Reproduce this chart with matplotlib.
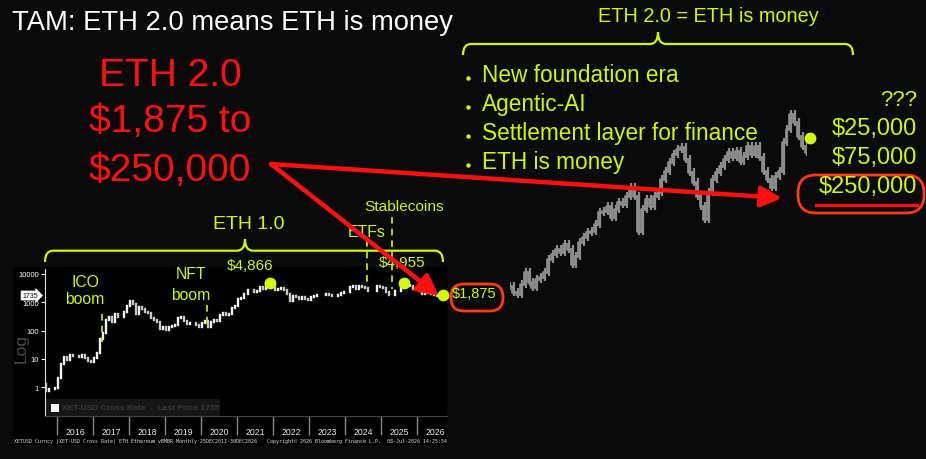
import matplotlib
matplotlib.use("Agg")
import matplotlib.pyplot as plt
import numpy as np
from matplotlib.path import Path
from matplotlib.patches import PathPatch, FancyBboxPatch, Rectangle
import matplotlib.transforms as mtransforms

plt.rcParams['font.family'] = ['Liberation Sans', 'DejaVu Sans']

# ---------------- DATA ----------------
# ETH monthly closes, Aug 2015 .. Jul 2026 (XET-USD)
eth_first_open = 2.8
eth_close = [
    1.35, 0.73, 0.87, 0.87, 0.93,
    2.2, 6.4, 11.4, 8.8, 14.0, 12.3, 12.5, 11.4, 13.2, 11.0, 8.7, 8.0,
    10.7, 16.1, 50.0, 80.0, 230, 292, 201, 388, 302, 305, 447, 756,
    1118, 856, 397, 670, 577, 455, 433, 283, 232, 197, 113, 133,
    107, 136, 141, 162, 268, 291, 218, 172, 180, 183, 152, 130,
    180, 218, 133, 206, 231, 226, 346, 435, 360, 386, 616, 737,
    1314, 1416, 1919, 2773, 2707, 2275, 2536, 3433, 3001, 4288, 4631, 3683,
    2688, 2922, 3282, 2730, 1942, 1067, 1679, 1553, 1328, 1573, 1296, 1196,
    1585, 1605, 1822, 1869, 1874, 1934, 1857, 1645, 1671, 1815, 2052, 2282,
    2283, 3340, 3646, 3013, 3760, 3433, 3232, 2513, 2603, 2518, 3705, 3332,
    3300, 2237, 1822, 1794, 2530, 2486, 3700, 4400, 4145, 3850, 3000, 2970,
    2440, 2000, 2100, 2280, 2000, 1880, 1735,
]
eth_start_year = 2015
eth_start_month = 8
years = [2016, 2017, 2018, 2019, 2020, 2021, 2022, 2023, 2024, 2025, 2026]
ytick_vals = [1, 10, 100, 1000, 10000]
last_price = 1735

# highlighted points on ETH 1.0 chart
dot_dates = [2021.92, 2025.65, 2026.72]
dot_values = [4866, 4955, 1875]
dot_labels = ["$4,866", "$4,955", "$1,875"]

# ETH 2.0 projected path (index level 0-100)
eth2_path = [9, 6, 5, 10, 16, 11, 8.5, 12.5, 13.5, 16, 22.5, 25, 27.5, 26, 30, 27.5,
             20, 24, 31, 33.5, 36, 36.5, 40, 46, 46.5, 49, 43.5, 47.5, 51, 50, 54,
             58.5, 54, 36.5, 47.5, 52.5, 49, 54, 56, 62.5, 66.5, 71, 75, 77.5, 78.5,
             72.5, 66, 61, 54, 49, 42.5, 56, 62.5, 66, 69, 72.5, 76, 73.5, 76.5,
             71.5, 74, 79, 75, 79, 73.5, 66.5, 62.5, 58.5, 64, 66.5, 81, 87.5, 95,
             91, 84, 79, 76]

bullets = ["New foundation era", "Agentic-AI", "Settlement layer for finance", "ETH is money"]
targets = ["???", "$25,000", "$75,000", "$250,000"]

# ---------------- STYLE ----------------
BG = '#0a0a0a'
LIME = '#d2f500'
RED = '#ff1010'
ORANGE = '#ff3a12'
W, H = 926, 460

fig = plt.figure(figsize=(W / 100, H / 100), dpi=100, facecolor=BG)

def fr(x0, y0, x1, y1):
    return [x0 / W, 1 - y1 / H, (x1 - x0) / W, (y1 - y0) / H]

# background axes for Bloomberg panel
bg = fig.add_axes([0, 0, 1, 1], zorder=0)
bg.set_xlim(0, W); bg.set_ylim(H, 0); bg.axis('off')
bg.add_patch(Rectangle((13, 268), 434, 178, fc='#000000', ec='none'))

# ---------------- ETH 1.0 chart ----------------
ax = fig.add_axes(fr(45, 270, 447, 417), zorder=1)
ax.set_facecolor('#000000')
n = len(eth_close)
t = np.array([eth_start_year + (eth_start_month - 1 + i) / 12 + 1 / 24 for i in range(n)])
opens = [eth_first_open] + eth_close[:-1]
for ti, o, c in zip(t, opens, eth_close):
    lo, hi = min(o, c), max(o, c)
    col = '#f2f2f2' if c >= o else '#c8c8c8'
    ax.vlines(ti, lo, hi, color=col, lw=1.7, capstyle='projecting')
ax.set_yscale('log')
ax.set_ylim(0.096, 15000)
ax.set_xlim(2015.667, 2026.833)
for s in ['top', 'right']:
    ax.spines[s].set_visible(False)
ax.spines['left'].set_color('#dddddd')
ax.spines['bottom'].set_color('#444444')
ax.set_yticks(ytick_vals)
ax.set_yticklabels([str(v) for v in ytick_vals])
ax.yaxis.set_minor_locator(matplotlib.ticker.NullLocator())
ax.tick_params(axis='y', colors='white', labelsize=5.5, length=3, width=0.8, pad=1.5)
ax.set_xticks(years)
ax.set_xticklabels([])
ax.set_xticks([y + 0.5 for y in years], minor=True)
ax.set_xticklabels([str(y) for y in years], minor=True)
ax.tick_params(axis='x', which='major', length=14, width=1, color='#888888', direction='out')
ax.tick_params(axis='x', which='minor', length=0, labelsize=6.3, labelcolor='#e8e8e8', pad=8)

# last price tag
trans = mtransforms.blended_transform_factory(ax.transAxes, ax.transData)
ax.text(-0.018, last_price, str(last_price), transform=trans, ha='right', va='center',
        fontsize=5, color='black', clip_on=False,
        bbox=dict(boxstyle='rarrow,pad=0.15', fc='white', ec='white', lw=0.5))

# legend box
ax.add_patch(Rectangle((0.0, 0.0), 0.435, 0.115, transform=ax.transAxes, fc='#161616', ec='none'))
ax.add_patch(Rectangle((0.015, 0.03), 0.02, 0.055, transform=ax.transAxes, fc='white', ec='none'))
ax.text(0.042, 0.057, f"XET-USD Cross Rate  -  Last Price {last_price}", transform=ax.transAxes,
        fontsize=6, color='#3a3a3a', fontweight='bold', va='center')

# dots
ax.plot(dot_dates, dot_values, 'o', ms=8.5, color='#d4f70f', mec='none', clip_on=False, zorder=5)

# ---------------- ETH 2.0 chart ----------------
gx = fig.add_axes(fr(510, 105, 807, 305), zorder=1)
gx.patch.set_alpha(0)
gx.axis('off')
m = len(eth2_path)
xs = np.arange(m)
gx.set_xlim(0, m - 1)
gx.set_ylim(0, 100)
gx.plot(xs, eth2_path, color='#8c8c8c', lw=2.0, drawstyle='steps-mid')
prev = eth2_path[0]
for i, v in enumerate(eth2_path):
    lo, hi = min(prev, v), max(prev, v)
    gx.vlines(i, lo - 2.2, hi + 2.2, color='#8c8c8c', lw=1.6)
    prev = v

# ---------------- overlay annotations ----------------
ov = fig.add_axes([0, 0, 1, 1], zorder=5)
ov.set_xlim(0, W); ov.set_ylim(H, 0); ov.axis('off'); ov.patch.set_alpha(0)

ov.text(12, 30, "TAM: ETH 2.0 means ETH is money", color='white', fontsize=19.7, va='baseline')

for txt, yb in zip(["ETH 2.0", "$1,875 to", "$250,000"], [86, 132.5, 181.5]):
    ov.text(170, yb, txt, color=RED, fontsize=28, ha='center', va='baseline')

def brace(x0, x1, y, xm, y_end, y_tip, r=8):
    verts = [(x0, y_end), (x0, y), (x0 + r, y), (xm - r, y), (xm, y), (xm, y_tip),
             (xm, y), (xm + r, y), (x1 - r, y), (x1, y), (x1, y_end)]
    codes = [Path.MOVETO, Path.CURVE3, Path.CURVE3, Path.LINETO, Path.CURVE3, Path.CURVE3,
             Path.CURVE3, Path.CURVE3, Path.LINETO, Path.CURVE3, Path.CURVE3]
    ov.add_patch(PathPatch(Path(verts, codes), fc='none', ec=LIME, lw=1.6))

brace(463, 853, 45, 658, 56, 33)
ov.text(708, 21.7, "ETH 2.0 = ETH is money", color=LIME, fontsize=14.3, ha='center', va='baseline')

brace(45, 443, 251.7, 245, 263, 240)
ov.text(249, 229.3, "ETH 1.0", color=LIME, fontsize=14, ha='center', va='baseline')

for txt, yb in zip(bullets, [81.7, 111, 140, 169.3]):
    ov.plot([468], [yb - 3], 'o', ms=3.2, color=LIME, mec='none')
    ov.text(482, yb, txt, color=LIME, fontsize=16.3, va='baseline')

for txt, yb in zip(targets, [106.5, 135, 164, 193.3]):
    ov.text(917, yb, txt, color=LIME, fontsize=17 if txt != "???" else 16, ha='right', va='baseline')

ov.plot([810], [139], 'o', ms=8.5, color='#d4f70f', mec='none')

# event annotations
ov.text(85, 286.7, "ICO", color=LIME, fontsize=11.3, ha='center', va='baseline')
ov.text(85, 304.5, "boom", color=LIME, fontsize=11.3, ha='center', va='baseline')
ov.text(191, 279.5, "NFT", color=LIME, fontsize=11.3, ha='center', va='baseline')
ov.text(191, 300, "boom", color=LIME, fontsize=11.3, ha='center', va='baseline')
ov.text(367, 236.7, "ETFs", color=LIME, fontsize=11.4, ha='center', va='baseline')
ov.text(404, 210.7, "Stablecoins", color=LIME, fontsize=11.1, ha='center', va='baseline')
ov.text(250.5, 270, dot_labels[0], color=LIME, fontsize=11, ha='center', va='baseline')
ov.text(402, 266.7, dot_labels[1], color=LIME, fontsize=11, ha='center', va='baseline')
ov.text(452, 298.3, dot_labels[2], color=LIME, fontsize=10.5, ha='left', va='baseline')

for x, y0, y1 in [(101.7, 315, 343), (206.7, 306, 328), (367.3, 241, 283), (392.3, 218, 290)]:
    ov.plot([x, x], [y0, y1], color=LIME, lw=1.2, ls=(0, (4, 3)))

# red arrows
for (x1, y1) in [(439, 297), (782, 199)]:
    ov.annotate("", xy=(x1, y1), xytext=(271, 165),
                arrowprops=dict(arrowstyle='-|>,head_length=0.9,head_width=0.45', color=RED,
                                lw=3.2, shrinkA=0, shrinkB=0, mutation_scale=14))

# orange ellipses
ov.add_patch(FancyBboxPatch((451, 285), 52, 27, boxstyle='round,pad=0,rounding_size=13',
                            fc='none', ec=ORANGE, lw=2))
ov.add_patch(FancyBboxPatch((798, 176), 126, 38, boxstyle='round,pad=0,rounding_size=18',
                            fc='none', ec=ORANGE, lw=2))
ov.plot([816, 917], [206, 206], color=RED, lw=2.3)

# Bloomberg text
ov.text(21, 349, "Log", color='#4a4a4a', fontsize=12.5, rotation=90, ha='center', va='center')
ov.text(14, 441.7, "XETUSD Curncy (XET-USD Cross Rate) ETH Ethereum vBMBR Monthly 25DEC2011-30DEC2026",
        color='#dddddd', fontsize=3.6, family='DejaVu Sans Mono', va='center')
ov.text(267, 441.7, "Copyright\u00a9 2026 Bloomberg Finance L.P.", color='#dddddd', fontsize=3.6,
        family='DejaVu Sans Mono', va='center')
ov.text(387, 441.7, "08-Jul-2026 14:25:54", color='#dddddd', fontsize=3.6,
        family='DejaVu Sans Mono', va='center')

fig.savefig("out.png", dpi=100, facecolor=BG)
